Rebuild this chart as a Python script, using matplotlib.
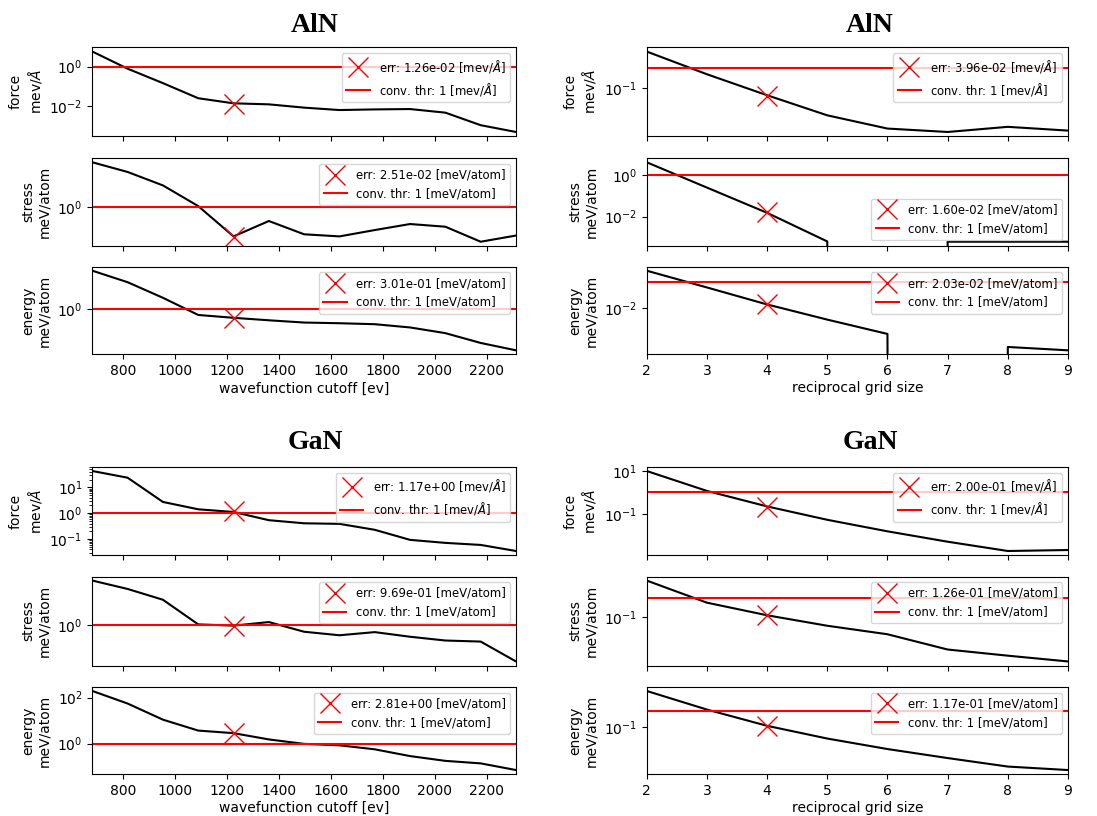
import matplotlib
matplotlib.use('Agg')
import matplotlib.pyplot as plt
from matplotlib.ticker import LogLocator, NullLocator

# ---------------- data ----------------
cutoff_ev = [680.3, 816.3, 952.4, 1088.5, 1224.5, 1360.6, 1496.6, 1632.7,
             1768.7, 1904.8, 2040.9, 2176.9, 2313.0]
grid_size = [2, 3, 4, 5, 6, 7, 8, 9]
conv_cutoff = 1224.5
conv_grid = 4
threshold = 1

aln_cut_force = [5.8, 0.79, 0.148, 0.0256, 0.0142, 0.0126, 0.0086, 0.0065,
                 0.0070, 0.0073, 0.0048, 0.00112, 0.00051]
aln_cut_stress = [251, 76, 14.5, 1.13, 0.027, 0.18, 0.035, 0.027, 0.059,
                  0.124, 0.089, 0.014, 0.030]
aln_cut_energy = [178, 38, 4.7, 0.47, 0.32, 0.23, 0.17, 0.155, 0.136, 0.088,
                  0.041, 0.011, 0.0041]
aln_grid_force = [7.0, 0.49, 0.042, 0.0040, 0.00085, 0.00057, 0.00104, 0.00067]
aln_grid_stress = [4.0, 0.245, 0.0151, 0.00064, 0.0, 0.00062, 0.00062, 0.00062]
aln_grid_energy = [7.9, 0.41, 0.0204, 0.0014, 0.000112, 0.0, 1.12e-5, 6.2e-6]

gan_cut_force = [42.6, 23.5, 2.73, 1.42, 1.12, 0.54, 0.41, 0.39, 0.23, 0.094,
                 0.072, 0.060, 0.035]
gan_cut_stress = [237, 85, 22.8, 1.13, 0.969, 1.5, 0.46, 0.30, 0.44, 0.25,
                  0.158, 0.139, 0.0123]
gan_cut_energy = [193, 55, 11, 3.7, 2.86, 1.53, 0.98, 0.85, 0.57, 0.29, 0.18,
                  0.14, 0.072]
gan_grid_force = [10, 1.17, 0.22, 0.052, 0.015, 0.0049, 0.0018, 0.0020]
gan_grid_stress = [7.3, 0.55, 0.126, 0.037, 0.0137, 0.0023, 0.00112, 0.00057]
gan_grid_energy = [16, 1.15, 0.115, 0.019, 0.0043, 0.0012, 0.00036, 0.00022]

aln_cut_err = [1.26e-2, 2.51e-2, 3.01e-1]
aln_grid_err = [3.96e-2, 1.60e-2, 2.03e-2]
gan_cut_err = [1.17e0, 9.69e-1, 2.81e0]
gan_grid_err = [2.00e-1, 1.26e-1, 1.17e-1]

# visible y tick exponents per panel (force, stress, energy)
aln_cut_yticks = [[0, -2], [0], [0]]
aln_grid_yticks = [[-1], [0, -2], [-2]]
gan_cut_yticks = [[1, 0, -1], [0], [2, 0]]
gan_grid_yticks = [[1, -1], [-1], [-1]]

materials = ["AlN", "GaN"]
quantities = ["force", "stress", "energy"]
units = ["mev/$\\AA$", "meV/atom", "meV/atom"]
xlabels = ["wavefunction cutoff [ev]", "reciprocal grid size"]

# ---------------- layout ----------------
W, H = 1097, 816
fig = plt.figure(figsize=(W / 100, H / 100), dpi=100)

rows_px = [(47.5, 136), (158.3, 245.7), (266.7, 354.3),
           (467, 555), (576.5, 665.5), (687, 774)]
cols_px = [(92.3, 516), (646.7, 1068)]


def make_ax(r, c):
    t, b = rows_px[r]
    l, rr = cols_px[c]
    return fig.add_axes([l / W, 1 - b / H, (rr - l) / W, (b - t) / H])


groups = [
    (0, 0, cutoff_ev, [aln_cut_force, aln_cut_stress, aln_cut_energy],
     aln_cut_err, conv_cutoff, aln_cut_yticks, ["upper right"] * 3, False),
    (0, 1, grid_size, [aln_grid_force, aln_grid_stress, aln_grid_energy],
     aln_grid_err, conv_grid, aln_grid_yticks,
     ["upper right", "lower right", "upper right"], False),
    (1, 0, cutoff_ev, [gan_cut_force, gan_cut_stress, gan_cut_energy],
     gan_cut_err, conv_cutoff, gan_cut_yticks, ["upper right"] * 3, True),
    (1, 1, grid_size, [gan_grid_force, gan_grid_stress, gan_grid_energy],
     gan_grid_err, conv_grid, gan_grid_yticks, ["upper right"] * 3, False),
]

for (m, c, xs, series, errs, xconv, yticks, locs, minor_first) in groups:
    for q in range(3):
        ax = make_ax(m * 3 + q, c)
        ax.set_yscale('log')
        ax.plot(xs, series[q], color='black', lw=1.5)
        ax.plot([xconv], [errs[q]], 'x', color='red', ms=14, mew=1.0,
                label=f"err: {errs[q]:.2e} [{units[q]}]")
        ax.axhline(threshold, color='red', lw=1.5,
                   label=f"conv. thr: {threshold} [{units[q]}]")
        ax.set_xlim(xs[0], xs[-1])
        ax.set_yticks([10.0 ** e for e in yticks[q]])
        if q == 0 and minor_first:
            ax.yaxis.set_minor_locator(LogLocator(base=10, subs='auto'))
        else:
            ax.yaxis.set_minor_locator(NullLocator())
        ax.set_ylabel(f"{quantities[q]}\n{units[q]}", fontsize=10)
        ax.tick_params(labelsize=10)
        ax.legend(loc=locs[q], fontsize=8.33)
        if q < 2:
            ax.tick_params(labelbottom=False)
        else:
            ax.set_xlabel(xlabels[c], fontsize=10, labelpad=2.5)

title_pos = [(315, 25), (870, 25), (315, 443), (870, 443)]
for i, (tx, ty) in enumerate(title_pos):
    fig.text(tx / W, 1 - ty / H, materials[i // 2], ha='center', va='center',
             fontsize=20, fontweight='bold', family='Liberation Serif')

fig.savefig("out.png", dpi=100)
